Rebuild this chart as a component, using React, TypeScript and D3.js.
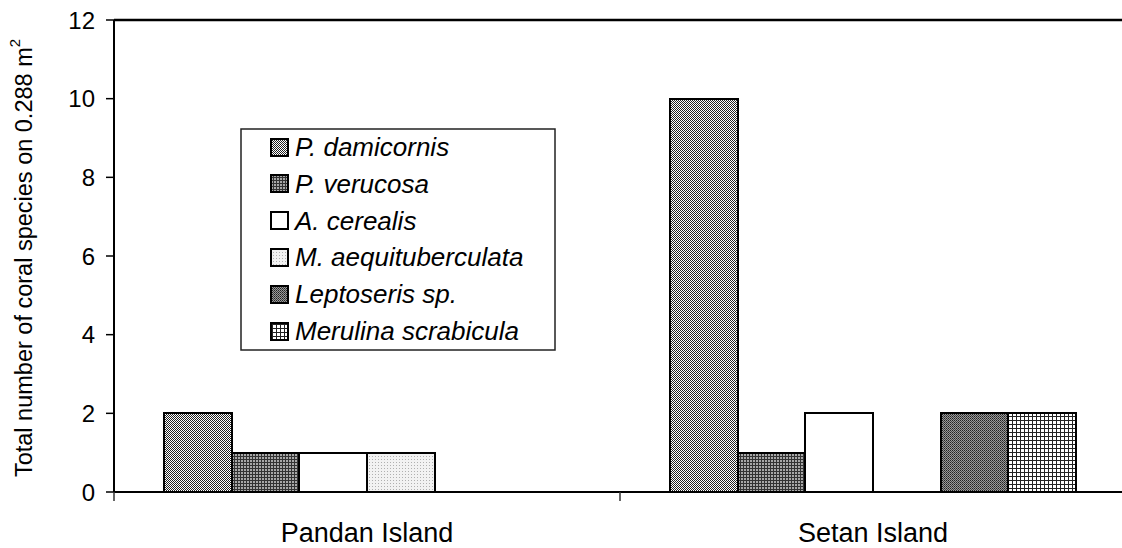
import * as d3 from "d3";

const categories = ["Pandan Island", "Setan Island"];
const species = [
  "P. damicornis",
  "P. verucosa",
  "A. cerealis",
  "M. aequituberculata",
  "Leptoseris sp.",
  "Merulina scrabicula",
];
const pandanValues = [2, 1, 1, 1, 0, 0];
const setanValues = [10, 1, 2, 0, 2, 2];
const yTicks = [0, 2, 4, 6, 8, 10, 12];

const seriesByCategory = [pandanValues, setanValues];

const width = 1122;
const height = 548;
const left = 114;
const top = 20;
const bottom = 492;
const font = "'Liberation Sans', Arial, sans-serif";

// fill pattern id per species (Excel style hatches)
const fills = ["url(#pDam)", "url(#pVer)", "#fff", "url(#pAeq)", "url(#pLep)", "url(#pMer)"];

export default function App() {
  const x = d3.scaleBand().domain(categories).range([left, 1126]);
  const xInner = d3
    .scaleBand()
    .domain(species)
    .range([0, x.bandwidth()])
    .paddingInner(0)
    .paddingOuter(0.74);
  const y = d3.scaleLinear().domain([0, 12]).range([bottom, top]);

  return (
    <svg
      width={width}
      height={height}
      style={{ position: "absolute", left: 0, top: 0, background: "#fff" }}
      fontFamily={font}
    >
      <defs>
        <pattern id="pDam" width={2} height={2} patternUnits="userSpaceOnUse">
          <rect width={2} height={2} fill="#fff" />
          <rect width={1} height={1} fill="#222" />
          <rect x={1} y={1} width={1} height={1} fill="#222" />
        </pattern>
        <pattern id="pVer" width={3} height={3} patternUnits="userSpaceOnUse">
          <rect width={3} height={3} fill="#a8a8a8" />
          <rect width={3} height={1} fill="#333" />
          <rect width={1} height={3} fill="#333" />
        </pattern>
        <pattern id="pAeq" width={3} height={3} patternUnits="userSpaceOnUse">
          <rect width={3} height={3} fill="#f2f2f2" />
          <rect width={1} height={1} fill="#b0b0b0" />
        </pattern>
        <pattern id="pLep" width={2} height={2} patternUnits="userSpaceOnUse">
          <rect width={2} height={2} fill="#9a9a9a" />
          <rect width={1} height={1} fill="#222" />
          <rect x={1} y={1} width={1} height={1} fill="#444" />
        </pattern>
        <pattern id="pMer" width={4} height={4} patternUnits="userSpaceOnUse">
          <rect width={4} height={4} fill="#fff" />
          <rect width={4} height={1} fill="#222" />
          <rect width={1} height={4} fill="#222" />
        </pattern>
      </defs>

      {/* bars */}
      {categories.map((c, ci) => (
        <g key={c} transform={`translate(${x(c)},0)`}>
          {species.map((s, si) => {
            const v = seriesByCategory[ci][si];
            if (!v) return null;
            return (
              <rect
                key={s}
                x={xInner(s)}
                y={y(v)}
                width={xInner.bandwidth()}
                height={y(0) - y(v)}
                fill={fills[si]}
                stroke="#000"
                strokeWidth={2}
                shapeRendering="crispEdges"
              />
            );
          })}
        </g>
      ))}

      {/* top frame line */}
      <line x1={left} x2={width} y1={top} y2={top} stroke="#000" strokeWidth={2.5} />

      {/* y axis */}
      <line x1={left} x2={left} y1={top} y2={bottom} stroke="#000" strokeWidth={2} />
      {yTicks.map((t) => (
        <g key={t}>
          <line x1={left - 8} x2={left} y1={y(t)} y2={y(t)} stroke="#000" strokeWidth={1.5} />
          <text
            x={95}
            y={y(t)}
            textAnchor="end"
            dominantBaseline="central"
            fontSize={24}
            fill="#000"
          >
            {t}
          </text>
        </g>
      ))}

      {/* x axis */}
      <line x1={left} x2={width} y1={bottom} y2={bottom} stroke="#000" strokeWidth={2} />
      {[left, ...categories.map((c) => (x(c) as number) + x.bandwidth())].map((tx) => (
        <line key={tx} x1={tx} x2={tx} y1={bottom} y2={bottom + 9} stroke="#333" strokeWidth={1.5} />
      ))}
      {categories.map((c) => (
        <text
          key={c}
          x={(x(c) as number) + x.bandwidth() / 2}
          y={533}
          textAnchor="middle"
          dominantBaseline="central"
          fontSize={27}
          fill="#000"
        >
          {c}
        </text>
      ))}

      {/* y label */}
      <text
        transform={`translate(24,${(top + bottom) / 2 + 2}) rotate(-90)`}
        textAnchor="middle"
        dominantBaseline="central"
        fontSize={23.5}
        fill="#000"
      >
        Total number of coral species on 0.288 m
        <tspan fontSize={15} dy={-10}>
          2
        </tspan>
      </text>

      {/* legend */}
      <rect x={241} y={129} width={314} height={221} fill="#fff" stroke="#222" strokeWidth={1.5} />
      {species.map((s, i) => {
        const cy = 147 + i * 36.8;
        return (
          <g key={s}>
            <rect
              x={271}
              y={cy - 8.5}
              width={17}
              height={17}
              fill={fills[i]}
              stroke="#000"
              strokeWidth={2}
              shapeRendering="crispEdges"
            />
            <text x={295} y={cy} dominantBaseline="central" fontSize={26} fontStyle="italic" fill="#000">
              {s}
            </text>
          </g>
        );
      })}
    </svg>
  );
}
